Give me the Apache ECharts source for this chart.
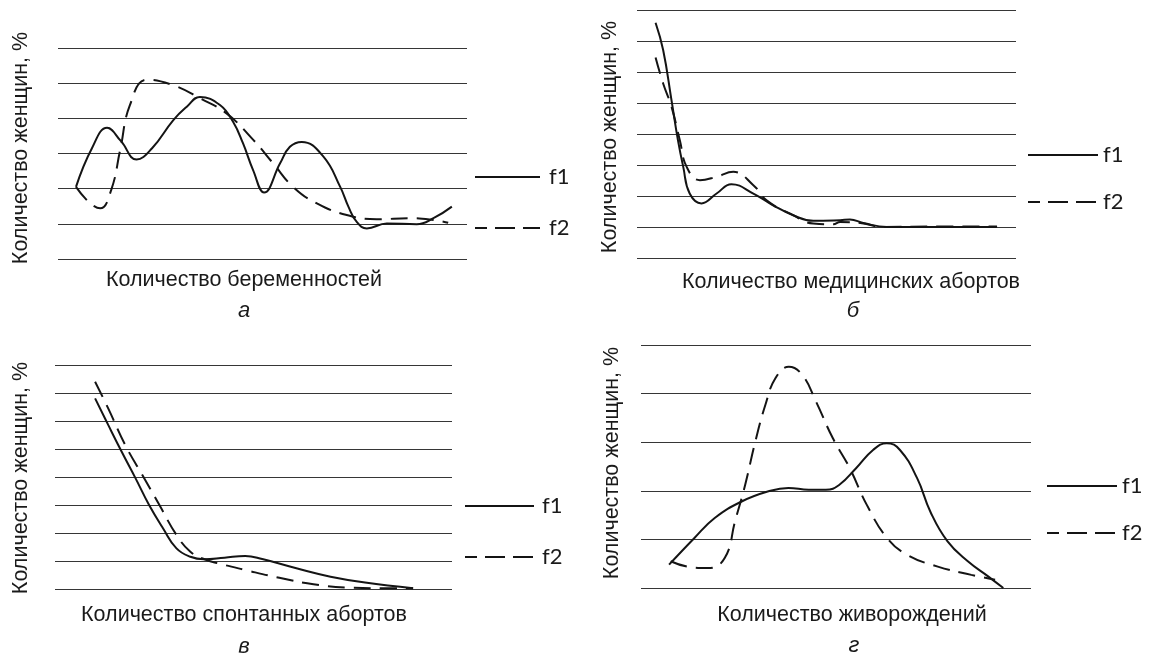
<!DOCTYPE html>
<html>
<head>
<meta charset="utf-8">
<script src="https://cdn.jsdelivr.net/npm/echarts@6/dist/echarts.min.js"></script>
<style>
  html, body { margin: 0; padding: 0; background: #ffffff; }
  #chart { width: 1150px; height: 655px; }
</style>
</head>
<body>
<div id="chart"></div>
<script>
// Панель а: количество беременностей (x — условная шкала 0..100, y — деления сетки)
const xA_f1 = [4.4, 8.3, 12.0, 15.4, 19.2, 23.0, 28.2, 31.5, 34.7, 39.6, 42.8, 45.2, 47.7, 50.4, 54.3, 56.7, 59.6, 64.9, 69.0, 71.0, 73.0, 75.5, 80.4, 87.7, 91.8, 96.3];
const yA_f1 = [2.05, 3.15, 3.73, 3.35, 2.83, 3.15, 3.95, 4.33, 4.61, 4.38, 3.90, 3.30, 2.53, 1.89, 2.72, 3.19, 3.33, 2.91, 2.05, 1.49, 1.06, 0.87, 1.01, 0.99, 1.16, 1.49];
const xA_f2 = [4.4, 10.3, 13.0, 15.2, 17.6, 21.7, 28.2, 34.7, 41.2, 47.8, 52.6, 57.5, 63.3, 70.6, 77.9, 86.1, 91.8, 95.4];
const yA_f2 = [2.05, 1.44, 1.96, 3.10, 4.38, 5.10, 4.94, 4.57, 4.14, 3.38, 2.72, 2.05, 1.58, 1.25, 1.13, 1.16, 1.11, 1.03];

// Панель б: количество медицинских абортов
const xB_f1 = [4.9, 6.9, 9.1, 10.8, 12.2, 13.9, 17.0, 21.0, 24.9, 30.7, 35.9, 41.2, 46.5, 53.6, 56.2, 59.7, 65.9, 80.0, 95.0];
const yB_f1 = [7.59, 6.71, 5.09, 3.80, 2.94, 2.08, 1.76, 2.08, 2.38, 2.08, 1.70, 1.38, 1.20, 1.22, 1.24, 1.13, 1.00, 1.00, 1.00];
const xB_f2 = [4.9, 6.9, 9.1, 11.3, 13.1, 16.6, 21.0, 25.4, 30.7, 34.2, 41.2, 46.5, 51.8, 53.6, 58.9, 65.0, 80.0, 95.0];
const yB_f2 = [6.47, 5.63, 4.88, 3.80, 2.94, 2.51, 2.62, 2.78, 2.35, 1.86, 1.38, 1.11, 1.09, 1.16, 1.13, 1.00, 1.02, 1.02];

// Панель в: количество спонтанных абортов
const xC_f1 = [10.1, 13.4, 16.8, 20.3, 23.7, 27.2, 30.6, 34.1, 37.5, 42.7, 47.9, 52.2, 60.8, 69.4, 78.1, 90.2];
const yC_f1 = [6.81, 5.86, 4.90, 3.95, 3.00, 2.17, 1.45, 1.15, 1.06, 1.12, 1.18, 1.07, 0.74, 0.44, 0.23, 0.03];
const xC_f2 = [10.1, 13.4, 17.7, 22.0, 26.3, 30.6, 34.1, 37.5, 41.0, 47.9, 56.5, 65.1, 73.8, 82.4, 90.2];
const yC_f2 = [7.40, 6.45, 5.14, 4.07, 3.00, 1.93, 1.33, 1.07, 0.92, 0.68, 0.40, 0.17, 0.05, 0.03, 0.03];

// Панель г: количество живорождений
const xD_f1 = [7.2, 13.7, 18.9, 25.8, 32.7, 37.8, 43.0, 47.4, 50.8, 55.2, 59.5, 63.0, 66.4, 70.8, 74.2, 78.6, 83.8, 89.0, 92.9];
const yD_f1 = [0.48, 1.03, 1.44, 1.78, 1.99, 2.06, 2.02, 2.02, 2.12, 2.47, 2.84, 2.98, 2.84, 2.26, 1.57, 0.96, 0.55, 0.24, 0.00];
const xD_f2 = [7.6, 11.9, 17.2, 21.5, 24.1, 26.7, 29.3, 31.9, 34.5, 37.9, 41.4, 44.9, 49.2, 53.5, 57.9, 63.1, 68.3, 76.1, 84.7, 90.8];
const yD_f2 = [0.55, 0.44, 0.41, 0.62, 1.37, 2.12, 3.01, 3.77, 4.32, 4.55, 4.38, 3.83, 3.08, 2.47, 1.71, 1.03, 0.68, 0.44, 0.27, 0.17];

// Число делений сетки по вертикали в каждой панели
const gridSteps = [6, 8, 8, 5];

// Подписи
const yAxisTitle = 'Количество женщин, %';
const xAxisTitles = ['Количество беременностей', 'Количество медицинских абортов', 'Количество спонтанных абортов', 'Количество живорождений'];
const panelLetters = ['а', 'б', 'в', 'г'];
const seriesNames = ['f1', 'f2'];

const pairs = (xs, ys) => xs.map((x, i) => [x, ys[i]]);

// Расположение панелей
const boxes = [
  { left: 58,  top: 48,  width: 409, height: 211 },
  { left: 637, top: 10,  width: 379, height: 248 },
  { left: 55,  top: 365, width: 397, height: 224 },
  { left: 641, top: 345, width: 390, height: 243 }
];

// Положение подписей и условных обозначений
const yTitlePos = [[21, 148], [610, 137], [21, 478], [612, 463]];
const xTitlePos = [[244, 280], [851, 282], [244, 615], [852, 615]];
const letterPos = [[244, 311], [853, 311], [244, 647], [854, 646]];
const legendPos = [
  { x: 475,  x2: 540,  yS: 177, yD: 228, tx: 549 },
  { x: 1028, x2: 1098, yS: 155, yD: 202, tx: 1103 },
  { x: 465,  x2: 534,  yS: 506, yD: 557, tx: 542 },
  { x: 1047, x2: 1117, yS: 486, yD: 533, tx: 1122 }
];

const curveColor = '#141414';
const gridColor = '#363636';
const dashPattern = [17, 9];

const panels = [
  [pairs(xA_f1, yA_f1), pairs(xA_f2, yA_f2)],
  [pairs(xB_f1, yB_f1), pairs(xB_f2, yB_f2)],
  [pairs(xC_f1, yC_f1), pairs(xC_f2, yC_f2)],
  [pairs(xD_f1, yD_f1), pairs(xD_f2, yD_f2)]
];

const grid = boxes.map(b => Object.assign({ containLabel: false }, b));

const xAxis = boxes.map((b, i) => ({
  type: 'value', gridIndex: i, min: 0, max: 100, show: false
}));

const yAxis = boxes.map((b, i) => ({
  type: 'value', gridIndex: i, min: 0, max: gridSteps[i], interval: 1,
  axisLine: { show: false }, axisTick: { show: false }, axisLabel: { show: false },
  splitLine: { show: true, lineStyle: { color: gridColor, width: 1.2 } }
}));

const series = [];
panels.forEach((p, i) => {
  p.forEach((data, k) => {
    series.push({
      name: seriesNames[k],
      type: 'line',
      xAxisIndex: i, yAxisIndex: i,
      data: data,
      smooth: 0.45,
      symbol: 'none',
      silent: true,
      lineStyle: { color: curveColor, width: 2, type: k === 0 ? 'solid' : dashPattern }
    });
  });
});

const labelFont = '21.5px "Liberation Sans", Arial, sans-serif';
const graphic = [];
for (let i = 0; i < 4; i++) {
  graphic.push({
    type: 'text', x: yTitlePos[i][0], y: yTitlePos[i][1], rotation: Math.PI / 2,
    style: { text: yAxisTitle, font: labelFont, fill: '#1a1a1a', textAlign: 'center', textVerticalAlign: 'middle' }
  });
  graphic.push({
    type: 'text', x: xTitlePos[i][0], y: xTitlePos[i][1],
    style: { text: xAxisTitles[i], font: labelFont, fill: '#1a1a1a', textAlign: 'center', textVerticalAlign: 'middle' }
  });
  graphic.push({
    type: 'text', x: letterPos[i][0], y: letterPos[i][1],
    style: { text: panelLetters[i], font: 'italic 22px "Liberation Sans", Arial, sans-serif', fill: '#1a1a1a', textAlign: 'center', textVerticalAlign: 'middle' }
  });
  const L = legendPos[i];
  graphic.push({
    type: 'line', shape: { x1: L.x, y1: L.yS, x2: L.x2, y2: L.yS },
    style: { stroke: curveColor, lineWidth: 2 }
  });
  graphic.push({
    type: 'line', shape: { x1: L.x, y1: L.yD, x2: L.x2, y2: L.yD },
    style: { stroke: curveColor, lineWidth: 2, lineDash: [20, 8], lineDashOffset: 8 }
  });
  graphic.push({
    type: 'text', x: L.tx, y: L.yS,
    style: { text: seriesNames[0], font: '22px Lato, "Liberation Sans", sans-serif', fill: '#1a1a1a', textAlign: 'left', textVerticalAlign: 'middle' }
  });
  graphic.push({
    type: 'text', x: L.tx, y: L.yD,
    style: { text: seriesNames[1], font: '22px Lato, "Liberation Sans", sans-serif', fill: '#1a1a1a', textAlign: 'left', textVerticalAlign: 'middle' }
  });
}

const chart = echarts.init(document.getElementById('chart'), null, { renderer: 'canvas' });
chart.setOption({
  backgroundColor: '#ffffff',
  animation: false,
  grid: grid,
  xAxis: xAxis,
  yAxis: yAxis,
  series: series,
  graphic: graphic
});
</script>
</body>
</html>
